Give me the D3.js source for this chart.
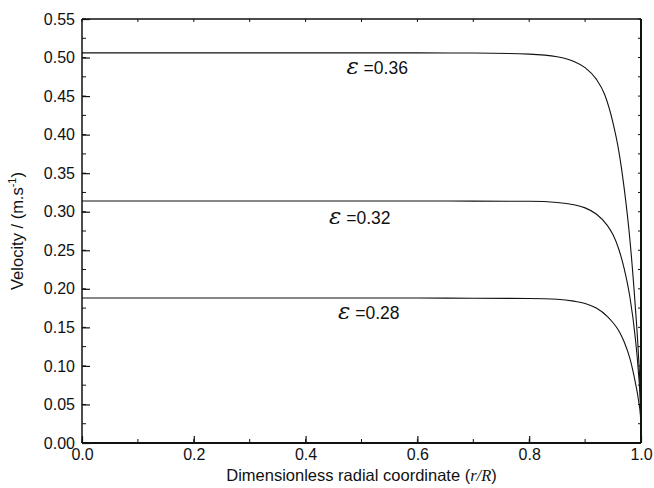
<!DOCTYPE html>
<html>
<head>
<meta charset="utf-8">
<script src="https://cdn.jsdelivr.net/npm/d3@7"></script>
<style>
  html, body { margin: 0; padding: 0; background: #fff; }
  svg { display: block; }
  text { font-family: "Liberation Sans", Arial, Helvetica, sans-serif; fill: #111; }
</style>
</head>
<body>
<svg id="chart" width="654" height="488"></svg>
<script>
// Axial velocity profiles across the bed radius for three bed porosities
const porosities = ["0.36", "0.32", "0.28"];

const profile036 = [
  [0.00, 0.506], [0.20, 0.506], [0.40, 0.506], [0.60, 0.506], [0.70, 0.5058],
  [0.80, 0.5045], [0.85, 0.501], [0.88, 0.495], [0.90, 0.487], [0.92, 0.472],
  [0.935, 0.452], [0.95, 0.415], [0.96, 0.380], [0.97, 0.330], [0.98, 0.265],
  [0.99, 0.175], [0.995, 0.120], [0.9995, 0.040], [1.00, 0.000]
];
const profile032 = [
  [0.00, 0.314], [0.20, 0.314], [0.40, 0.314], [0.60, 0.314], [0.70, 0.3138],
  [0.80, 0.3135], [0.85, 0.312], [0.88, 0.309], [0.90, 0.305], [0.92, 0.297],
  [0.94, 0.282], [0.95, 0.270], [0.96, 0.252], [0.97, 0.226], [0.98, 0.190],
  [0.99, 0.135], [0.995, 0.095], [0.9995, 0.040], [1.00, 0.000]
];
const profile028 = [
  [0.00, 0.188], [0.20, 0.188], [0.40, 0.188], [0.60, 0.188], [0.70, 0.1878],
  [0.80, 0.1875], [0.85, 0.1865], [0.88, 0.184], [0.90, 0.181], [0.92, 0.175],
  [0.94, 0.164], [0.95, 0.156], [0.96, 0.146], [0.97, 0.131], [0.98, 0.110],
  [0.99, 0.078], [0.995, 0.058], [0.9995, 0.030], [1.00, 0.000]
];
const profiles = [profile036, profile032, profile028];

// Label anchor positions in data units (r/R, velocity at baseline)
const labelAt = [[0.473, 0.479], [0.442, 0.284], [0.458, 0.161]];

const xTicks = [0.0, 0.2, 0.4, 0.6, 0.8, 1.0];
const yTicks = [0.00, 0.05, 0.10, 0.15, 0.20, 0.25, 0.30, 0.35, 0.40, 0.45, 0.50, 0.55];

const svg = d3.select("#chart");
const m = { left: 82, right: 641, top: 19, bottom: 443 };

const x = d3.scaleLinear().domain([0, 1]).range([m.left, m.right]);
const y = d3.scaleLinear().domain([0, 0.55]).range([m.bottom, m.top]);

const minorX = d3.range(0, 1.0001, 0.1);
const minorY = d3.range(0, 0.5501, 0.025);

// Bottom axis: ticks pointing inward
const gx = svg.append("g").attr("transform", `translate(0,${m.bottom})`)
  .call(d3.axisBottom(x).tickValues(xTicks).tickFormat(d3.format(".1f"))
    .tickSizeInner(-7).tickSizeOuter(0).tickPadding(6));
gx.selectAll(".tick text").attr("font-size", 16).attr("dy", "0.71em");
gx.selectAll(".tick line").attr("stroke", "#111").attr("stroke-width", 1.2);
gx.select(".domain").remove();
gx.selectAll(".minor").data(minorX).enter().append("line")
  .attr("x1", d => x(d)).attr("x2", d => x(d)).attr("y1", 0).attr("y2", -4)
  .attr("stroke", "#111").attr("stroke-width", 1);

// Left axis: ticks pointing inward
const gy = svg.append("g").attr("transform", `translate(${m.left},0)`)
  .call(d3.axisLeft(y).tickValues(yTicks).tickFormat(d3.format(".2f"))
    .tickSizeInner(-8).tickSizeOuter(0).tickPadding(7));
gy.selectAll(".tick text").attr("font-size", 16);
gy.selectAll(".tick line").attr("stroke", "#111").attr("stroke-width", 1.2);
gy.select(".domain").remove();
gy.selectAll(".minor").data(minorY).enter().append("line")
  .attr("x1", 0).attr("x2", 4).attr("y1", d => y(d)).attr("y2", d => y(d))
  .attr("stroke", "#111").attr("stroke-width", 1);

// Top and right mirror ticks
const gt = svg.append("g");
gt.selectAll("line").data(minorX).enter().append("line")
  .attr("x1", d => x(d)).attr("x2", d => x(d)).attr("y1", m.top).attr("y2", m.top + 3)
  .attr("stroke", "#111").attr("stroke-width", 1);
const gr = svg.append("g");
gr.selectAll("line").data(minorY).enter().append("line")
  .attr("x1", m.right).attr("x2", m.right - 3).attr("y1", d => y(d)).attr("y2", d => y(d))
  .attr("stroke", "#111").attr("stroke-width", 1);

// Profiles
const line = d3.line().x(d => x(d[0])).y(d => y(d[1])).curve(d3.curveMonotoneX);
svg.append("g").selectAll("path").data(profiles).enter().append("path")
  .attr("d", line).attr("fill", "none").attr("stroke", "#111").attr("stroke-width", 1.1);

// Frame
svg.append("line").attr("x1", m.left).attr("x2", m.right).attr("y1", m.top).attr("y2", m.top)
  .attr("stroke", "#111").attr("stroke-width", 1.5);
svg.append("line").attr("x1", m.left).attr("x2", m.right).attr("y1", m.bottom).attr("y2", m.bottom)
  .attr("stroke", "#111").attr("stroke-width", 2);
svg.append("line").attr("x1", m.left).attr("x2", m.left).attr("y1", m.top).attr("y2", m.bottom)
  .attr("stroke", "#111").attr("stroke-width", 1.5);
svg.append("line").attr("x1", m.right).attr("x2", m.right).attr("y1", m.top).attr("y2", m.bottom)
  .attr("stroke", "#111").attr("stroke-width", 2);

// Porosity labels
porosities.forEach((p, i) => {
  const t = svg.append("text")
    .attr("x", x(labelAt[i][0])).attr("y", y(labelAt[i][1]))
    .attr("font-size", 17.5);
  t.append("tspan").text("ε")
    .attr("font-family", "'DejaVu Serif', 'Liberation Serif', serif")
    .attr("font-style", "italic").attr("font-size", 23);
  t.append("tspan").text(" =" + p);
});

// Axis titles
const xt = svg.append("text").attr("x", (m.left + m.right) / 2).attr("y", 481)
  .attr("text-anchor", "middle").attr("font-size", 16.5);
xt.append("tspan").text("Dimensionless radial coordinate (");
xt.append("tspan").text("r/R")
  .attr("font-family", "'Liberation Serif', 'Times New Roman', serif").attr("font-style", "italic");
xt.append("tspan").text(")");

const yt = svg.append("text")
  .attr("transform", `translate(23,${(m.top + m.bottom) / 2}) rotate(-90)`)
  .attr("text-anchor", "middle").attr("font-size", 16.5);
yt.append("tspan").text("Velocity / (m.s");
yt.append("tspan").text("-1").attr("font-size", 11).attr("dy", -7);
yt.append("tspan").text(")").attr("dy", 7);
</script>
</body>
</html>
